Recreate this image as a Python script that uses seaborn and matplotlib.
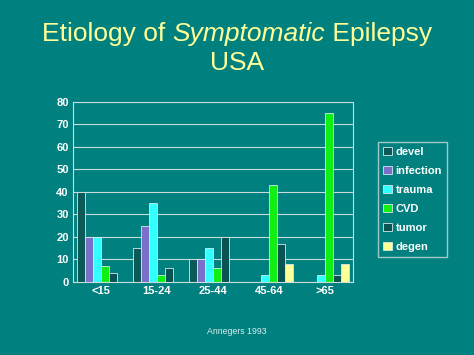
import pandas as pd
import matplotlib
matplotlib.use('Agg')
import matplotlib.pyplot as plt
import seaborn as sns

ages = ['<15', '15-24', '25-44', '45-64', '>65']
causes = ['devel', 'infection', 'trauma', 'CVD', 'tumor', 'degen']
devel = [40, 15, 10, 0, 0]
infection = [20, 25, 10, 0, 0]
trauma = [20, 35, 15, 3, 3]
cvd = [7, 3, 6, 43, 75]
tumor = [4, 6, 20, 17, 3]
degen = [0, 0, 0, 8, 8]

colors = ['#0b5a58', '#7b6fcc', '#33ffff', '#11ee11', '#0b5352', '#ffff99']
bg = '#00807e'

values = [devel, infection, trauma, cvd, tumor, degen]
rows = []
for cause, vals in zip(causes, values):
    for age, v in zip(ages, vals):
        rows.append({'age': age, 'cause': cause, 'value': v})
df = pd.DataFrame(rows)

sns.set_style('white')
plt.rcParams['font.family'] = ['Liberation Sans', 'DejaVu Sans']

fig = plt.figure(figsize=(4.74, 3.55), dpi=100, facecolor=bg)
ax = fig.add_axes([0.154, 0.206, 0.591, 0.507])
ax.set_facecolor(bg)

sns.barplot(data=df, x='age', y='value', hue='cause', order=ages, hue_order=causes,
            palette=colors, width=0.86, saturation=1, edgecolor='#d8e8e8',
            linewidth=0.6, ax=ax)

ax.set_ylim(0, 80)
ax.set_yticks(range(0, 81, 10))
ax.set_xlim(-0.5, 4.5)
ax.grid(axis='y', color='#c8dcdc', linewidth=0.8)
ax.set_axisbelow(True)
for s in ax.spines.values():
    s.set_color('#c8dcdc')
    s.set_linewidth(0.8)
ax.tick_params(colors='white', labelsize=8, length=0, pad=3)
for lab in ax.get_xticklabels() + ax.get_yticklabels():
    lab.set_fontweight('bold')
ax.set_xlabel('')
ax.set_ylabel('')

leg = ax.legend(loc='upper left', bbox_to_anchor=(1.07, 0.81), frameon=True,
                fontsize=8, handlelength=0.8, handleheight=0.8, handletextpad=0.3,
                labelspacing=0.8, borderpad=0.45, fancybox=False)
leg.get_frame().set_facecolor(bg)
leg.get_frame().set_edgecolor('#c8dcdc')
for t in leg.get_texts():
    t.set_color('white')
    t.set_fontweight('bold')

# title with italic middle word, centred as a whole
title_y = 0.905
parts = [('Etiology of ', 'normal'), ('Symptomatic', 'italic'), (' Epilepsy', 'normal')]
fig.canvas.draw()
r = fig.canvas.get_renderer()
texts = []
for txt, style in parts:
    texts.append(fig.text(0, title_y, txt, color='#ffff99', fontsize=19, style=style, va='center'))
widths = [t.get_window_extent(renderer=r).width / fig.bbox.width for t in texts]
x = 0.5 - sum(widths) / 2
for t, w in zip(texts, widths):
    t.set_x(x)
    x += w
fig.text(0.5, 0.822, 'USA', color='#ffff99', fontsize=19, ha='center', va='center')
fig.text(0.5, 0.067, 'Annegers 1993', color='#d8f0f0', fontsize=6.3, ha='center', va='center')

fig.savefig('out.png', dpi=100, facecolor=bg)
